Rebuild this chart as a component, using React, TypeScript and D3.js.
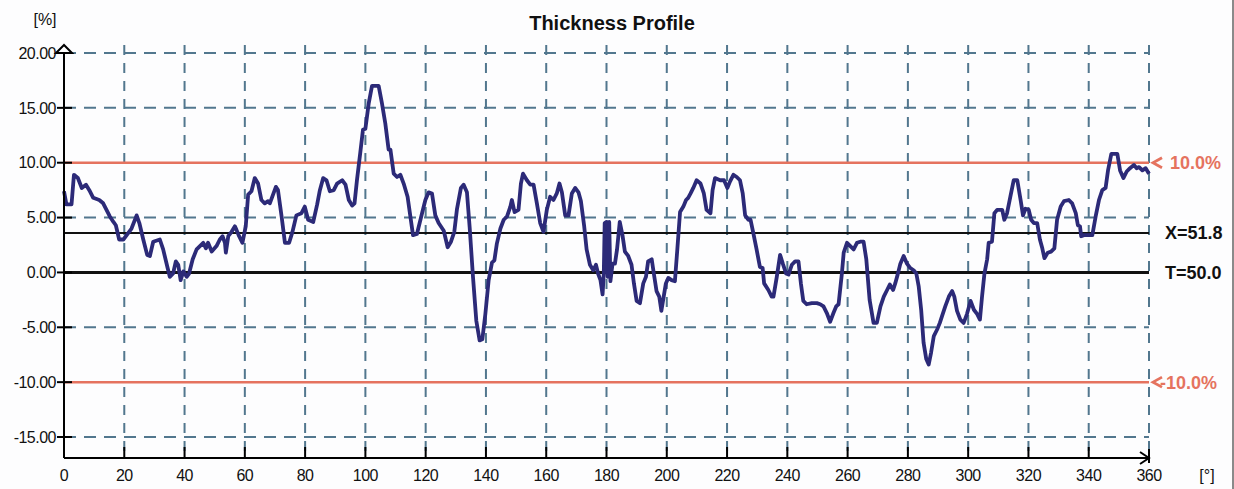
import React from "react";
import * as d3 from "d3";

// angle [°] / thickness deviation [%]
const angles = [
  0, 0.8, 2.5, 3.3, 4.6, 5.9, 7.3, 8.4, 9.7, 11.7, 13, 14.1, 15.2, 16.4, 17.2, 18.3, 19.7, 20.8, 22.4, 24.1,
  25, 26.3, 27.6, 28.5, 29.6, 31.8, 32.9, 34.3, 35.1, 36.2, 37.1, 37.9, 38.7, 39.6, 40.7, 41.5, 42.7, 44, 45.1, 46.2,
  47.1, 47.8, 49, 50.6, 51.7, 52.6, 53.4, 53.7, 54.5, 55.6, 56.7, 57.2, 58.1, 59.2, 60.3, 61.1, 62.2, 63.3, 64.4, 65.5,
  66.6, 67.7, 68.3, 70.3, 71, 72.2, 73.3, 74.7, 75.8, 77.1, 78.8, 79.9, 81, 82.7, 84, 84.9, 86, 87.1, 88.2, 89.5,
  90.6, 92.3, 93.4, 94.5, 95.6, 96.4, 97.2, 98.3, 99.2, 100, 101.1, 102.2, 104.4, 105.5, 106.6, 107.7, 108.3, 109.4, 110.5, 111.6,
  112.7, 114, 115.8, 117.1, 118.8, 119.9, 121, 122.1, 123.2, 124.3, 126, 127.3, 128.4, 129.5, 130.4, 131.7, 132.6, 133.7, 134.6, 135.7,
  136.8, 137.9, 138.8, 139.8, 140.9, 142, 142.8, 143.6, 144.8, 145.9, 147, 148.1, 148.6, 149.5, 150.8, 151.6, 152.3, 153.6, 154.7, 155.8,
  156.9, 158, 159.1, 160.2, 161.3, 162.4, 163.5, 164.4, 165.2, 166.3, 167.4, 168.5, 169.6, 170.7, 171.5, 172.6, 173.4, 174.5, 175.6, 176.5,
  177.2, 178, 178.7, 179.1, 179.4, 180, 180.4, 180.9, 181.3, 182, 182.8, 183.5, 184.4, 185.3, 186.1, 187.2, 188.3, 189.1, 190, 191.1,
  192.2, 193.1, 193.8, 195, 195.7, 196.6, 197.5, 198.2, 198.8, 199.7, 200.5, 201.6, 202.7, 203.5, 204.4, 205.5, 206.4, 207.1, 207.9, 208.8,
  209.9, 211.2, 212.3, 213.2, 214.5, 215.2, 216, 217.7, 219, 220.1, 221, 222.1, 223.2, 224.3, 225.2, 226, 227.1, 227.8, 228.7, 229.8,
  230.9, 231.8, 232.3, 233.7, 234.8, 235.4, 236.5, 237.6, 238.5, 239.6, 240.4, 241.5, 242.6, 243.7, 244.5, 245.3, 246.4, 248.1, 249.8, 250.9,
  252, 253.1, 254.2, 255.3, 256.2, 257, 258.1, 258.7, 259.8, 260.9, 262, 263.1, 264.2, 265.3, 266.2, 267.3, 268.6, 269.7, 270.9, 272,
  273.1, 274, 275.1, 275.8, 276.6, 277.5, 278.6, 279.7, 280.8, 281.9, 282.8, 283.6, 284.4, 285.2, 286.1, 286.9, 287.7, 288.6, 289.7, 290.6,
  291.3, 292.4, 293.6, 294.7, 295.4, 296.3, 297.4, 298.5, 299.6, 300.8, 301.9, 303, 303.9, 304.6, 305.4, 306.3, 306.8, 307.9, 308.7, 309.6,
  311.3, 312, 312.9, 314, 315.1, 316.3, 317.4, 318.2, 319, 320.1, 320.9, 321.8, 322.9, 323.8, 324.6, 325.3, 326.4, 327.5, 328.6, 329.5,
  330.7, 331.8, 333.4, 334.5, 335.7, 336.4, 337.1, 337.5, 338.4, 339.5, 341.2, 342.3, 343.4, 344.5, 345.6, 346.4, 347.5, 349.5, 350.4, 351.5,
  352.6, 353.7, 355, 355.9, 356.7, 357.8, 358.9, 360,
];

const deviation = [
  7.4, 6.2, 6.2, 8.9, 8.6, 7.7, 8.0, 7.5, 6.8, 6.6, 6.3, 5.7, 5.1, 4.6, 4.3, 3.0, 3.0, 3.4, 4.0, 5.2,
  4.5, 3.0, 1.6, 1.5, 2.8, 3.0, 2.1, 0.5, -0.4, -0.1, 1.0, 0.7, -0.7, 0.1, -0.4, -0.1, 1.2, 2.1, 2.4, 2.7,
  2.2, 2.7, 1.9, 2.4, 3.0, 3.3, 2.7, 1.8, 3.3, 3.7, 4.2, 3.9, 3.3, 2.7, 4.2, 7.1, 7.4, 8.6, 8.1, 6.6,
  6.3, 6.5, 6.3, 7.8, 7.5, 5.1, 2.7, 2.7, 3.7, 5.2, 5.4, 6.0, 4.8, 4.6, 6.2, 7.5, 8.6, 8.4, 7.4, 7.5,
  8.1, 8.4, 8.0, 6.6, 6.1, 6.3, 8.4, 10.9, 13.0, 13.1, 15.4, 17.0, 17.0, 15.4, 13.6, 11.2, 11.2, 9.0, 8.7, 8.9,
  8.1, 6.9, 3.4, 3.5, 5.4, 6.6, 7.3, 7.2, 5.2, 4.5, 3.8, 2.3, 2.8, 3.7, 5.8, 7.7, 8.0, 7.3, 4.1, -0.4,
  -4.4, -6.2, -6.1, -3.8, -0.7, 0.9, 1.1, 2.6, 4.0, 4.8, 5.1, 6.0, 6.6, 5.5, 5.7, 8.1, 9.0, 8.4, 8.0, 8.0,
  6.3, 4.5, 3.7, 5.7, 6.9, 6.6, 7.2, 8.1, 7.3, 5.2, 5.2, 7.2, 7.7, 7.3, 6.5, 4.2, 2.1, 0.7, 0.2, 0.7,
  -0.1, -0.7, -2.0, -0.1, 4.5, 4.6, -0.4, 4.6, -0.8, 0.8, 0.8, 2.1, 4.6, 3.4, 1.9, 1.5, 0.7, -1.0, -2.6, -2.8,
  -1.0, -0.4, 1.0, 1.2, -0.1, -1.7, -2.2, -3.5, -2.5, -1.0, -0.5, -0.7, -0.8, 2.1, 5.5, 6.0, 6.6, 6.8, 7.2, 7.7,
  8.4, 8.1, 7.2, 5.7, 5.4, 7.5, 8.6, 8.4, 8.4, 7.7, 8.3, 8.9, 8.7, 8.4, 7.2, 5.2, 4.8, 4.8, 3.6, 2.1,
  0.5, 0.4, -1.0, -1.6, -2.2, -2.2, -0.4, 1.6, 0.8, -0.1, -0.2, 0.7, 1.0, 1.0, -1.0, -2.6, -2.9, -2.8, -2.8, -2.9,
  -3.1, -3.7, -4.5, -3.7, -3.1, -2.9, -0.1, 1.8, 2.7, 2.4, 2.1, 2.7, 2.8, 2.8, 1.2, -2.5, -4.6, -4.6, -3.1, -2.2,
  -1.6, -1.1, -1.6, -1.0, -0.2, 0.8, 1.5, 0.8, 0.4, 0.2, -0.1, -1.3, -3.4, -6.4, -7.9, -8.4, -7.3, -5.8, -5.2, -4.6,
  -4.0, -3.1, -2.2, -1.7, -2.2, -3.5, -4.3, -4.6, -3.8, -2.6, -3.4, -3.8, -4.3, -2.2, -0.1, 1.2, 2.7, 2.8, 5.4, 5.7,
  5.7, 4.8, 5.4, 6.9, 8.4, 8.4, 6.6, 5.2, 5.8, 5.7, 4.8, 4.5, 4.5, 3.0, 2.2, 1.3, 1.8, 1.9, 2.2, 4.8,
  6.0, 6.5, 6.6, 6.3, 5.4, 4.3, 4.2, 3.3, 3.4, 3.4, 3.4, 5.1, 6.6, 7.5, 7.7, 9.3, 10.8, 10.8, 9.3, 8.6,
  9.2, 9.5, 9.8, 9.5, 9.6, 9.3, 9.5, 9.0,
];

const xTicks = [0, 20, 40, 60, 80, 100, 120, 140, 160, 180, 200, 220, 240, 260, 280, 300, 320, 340, 360];
const yTicks = [20, 15, 10, 5, 0, -5, -10, -15];
const gridY = [20, 15, 5, -5, -15];
const tolerance = [10, -10];
const meanValue = 3.6; // X=51.8 vs T=50.0
const labels = { title: "Thickness Profile", yUnit: "[%]", xUnit: "[°]", mean: "X=51.8", target: "T=50.0" };

const W = 1234;
const H = 489;
const font = "'Liberation Sans', Arial, sans-serif";
const gridColor = "#52778e";
const redColor = "#e5735f";
const lineColor = "#2c2a78";

export default function App() {
  const x = d3.scaleLinear().domain([0, 360]).range([64, 1149]);
  const y = d3.scaleLinear().domain([-15, 20]).range([437, 53]);
  const axisY = 458;
  const x0 = x(0);
  const x1 = x(360);

  const pts = angles.map((a, i) => [a, deviation[i]] as [number, number]);
  const line = d3
    .line<[number, number]>()
    .x((d) => x(d[0]))
    .y((d) => y(d[1]));

  return (
    <svg
      width={W}
      height={H}
      style={{ position: "absolute", left: 0, top: 0, background: "#fff" }}
      fontFamily={font}
    >
      <rect x={0} y={0} width={W} height={H} fill="#fdfdfe" />
      <line x1={1233} y1={0} x2={1233} y2={H} stroke="#8a8a8a" strokeWidth={2} />

      {/* dashed grid */}
      {gridY.map((v) => (
        <line key={"gy" + v} x1={x0} x2={x1} y1={y(v)} y2={y(v)} stroke={gridColor} strokeWidth={2} strokeDasharray="12,8" />
      ))}
      {xTicks.slice(1).map((t) => (
        <line key={"gx" + t} x1={x(t)} x2={x(t)} y1={45} y2={axisY} stroke={gridColor} strokeWidth={2} strokeDasharray="10,8" />
      ))}

      {/* tolerance lines */}
      {tolerance.map((v) => (
        <line key={"tol" + v} x1={x0} x2={x1} y1={y(v)} y2={y(v)} stroke={redColor} strokeWidth={2.5} />
      ))}
      <line x1={x0} x2={x1} y1={y(meanValue)} y2={y(meanValue)} stroke="#111" strokeWidth={2} />
      <line x1={x0} x2={x1} y1={y(0)} y2={y(0)} stroke="#111" strokeWidth={3} />

      {/* profile */}
      <path d={line(pts) ?? ""} fill="none" stroke={lineColor} strokeWidth={3.8} strokeLinejoin="round" />

      {/* axes */}
      <line x1={x0} x2={x0} y1={axisY} y2={46} stroke="#000" strokeWidth={2} />
      <path d={`M${x0},45 L${x0 - 8},53 L${x0 + 8},53 Z`} fill="#fff" stroke="#000" strokeWidth={2} />
      <line x1={x0} x2={x1} y1={axisY} y2={axisY} stroke="#000" strokeWidth={2} />
      <path d={`M${x1 - 9},${axisY - 6} L${x1},${axisY} L${x1 - 9},${axisY + 6}`} fill="none" stroke="#000" strokeWidth={2} />

      {yTicks.map((v) => (
        <g key={"yt" + v}>
          <line x1={x0 - 7} x2={x0 + 8} y1={y(v)} y2={y(v)} stroke="#000" strokeWidth={2} />
          <text x={56} y={y(v)} dy="0.36em" textAnchor="end" fontSize={16} letterSpacing={-0.5} fill="#111">
            {v.toFixed(2)}
          </text>
        </g>
      ))}
      {xTicks.map((t) => (
        <g key={"xt" + t}>
          {t > 0 && <line x1={x(t)} x2={x(t)} y1={t === 360 ? 449 : 447} y2={t === 360 ? 463 : axisY} stroke="#000" strokeWidth={2} />}
          <text x={x(t)} y={481} textAnchor="middle" fontSize={16} letterSpacing={-0.5} fill="#111">
            {t}
          </text>
        </g>
      ))}

      <text x={612} y={30} textAnchor="middle" fontSize={20} fontWeight="bold" fill="#111">
        {labels.title}
      </text>
      <text x={45} y={25} textAnchor="middle" fontSize={16} fill="#111">
        {labels.yUnit}
      </text>
      <text x={1207} y={481} textAnchor="middle" fontSize={16} fill="#111">
        {labels.xUnit}
      </text>

      {/* right-hand labels */}
      {tolerance.map((v) => (
        <g key={"tl" + v}>
          <path
            d={`M${x1 + 13},${y(v) - 5} L${x1 + 4},${y(v)} L${x1 + 13},${y(v) + 5}`}
            fill="none"
            stroke={redColor}
            strokeWidth={2.8}
          />
          <text x={v > 0 ? 1170 : 1160} y={y(v)} dy="0.36em" fontSize={18} fontWeight="bold" fill={redColor}>
            {(v > 0 ? "" : "-") + Math.abs(v).toFixed(1) + "%"}
          </text>
        </g>
      ))}
      <text x={1165} y={y(meanValue)} dy="0.36em" fontSize={18} fontWeight="bold" fill="#111">
        {labels.mean}
      </text>
      <text x={1165} y={y(0)} dy="0.36em" fontSize={18} fontWeight="bold" fill="#111">
        {labels.target}
      </text>
    </svg>
  );
}
